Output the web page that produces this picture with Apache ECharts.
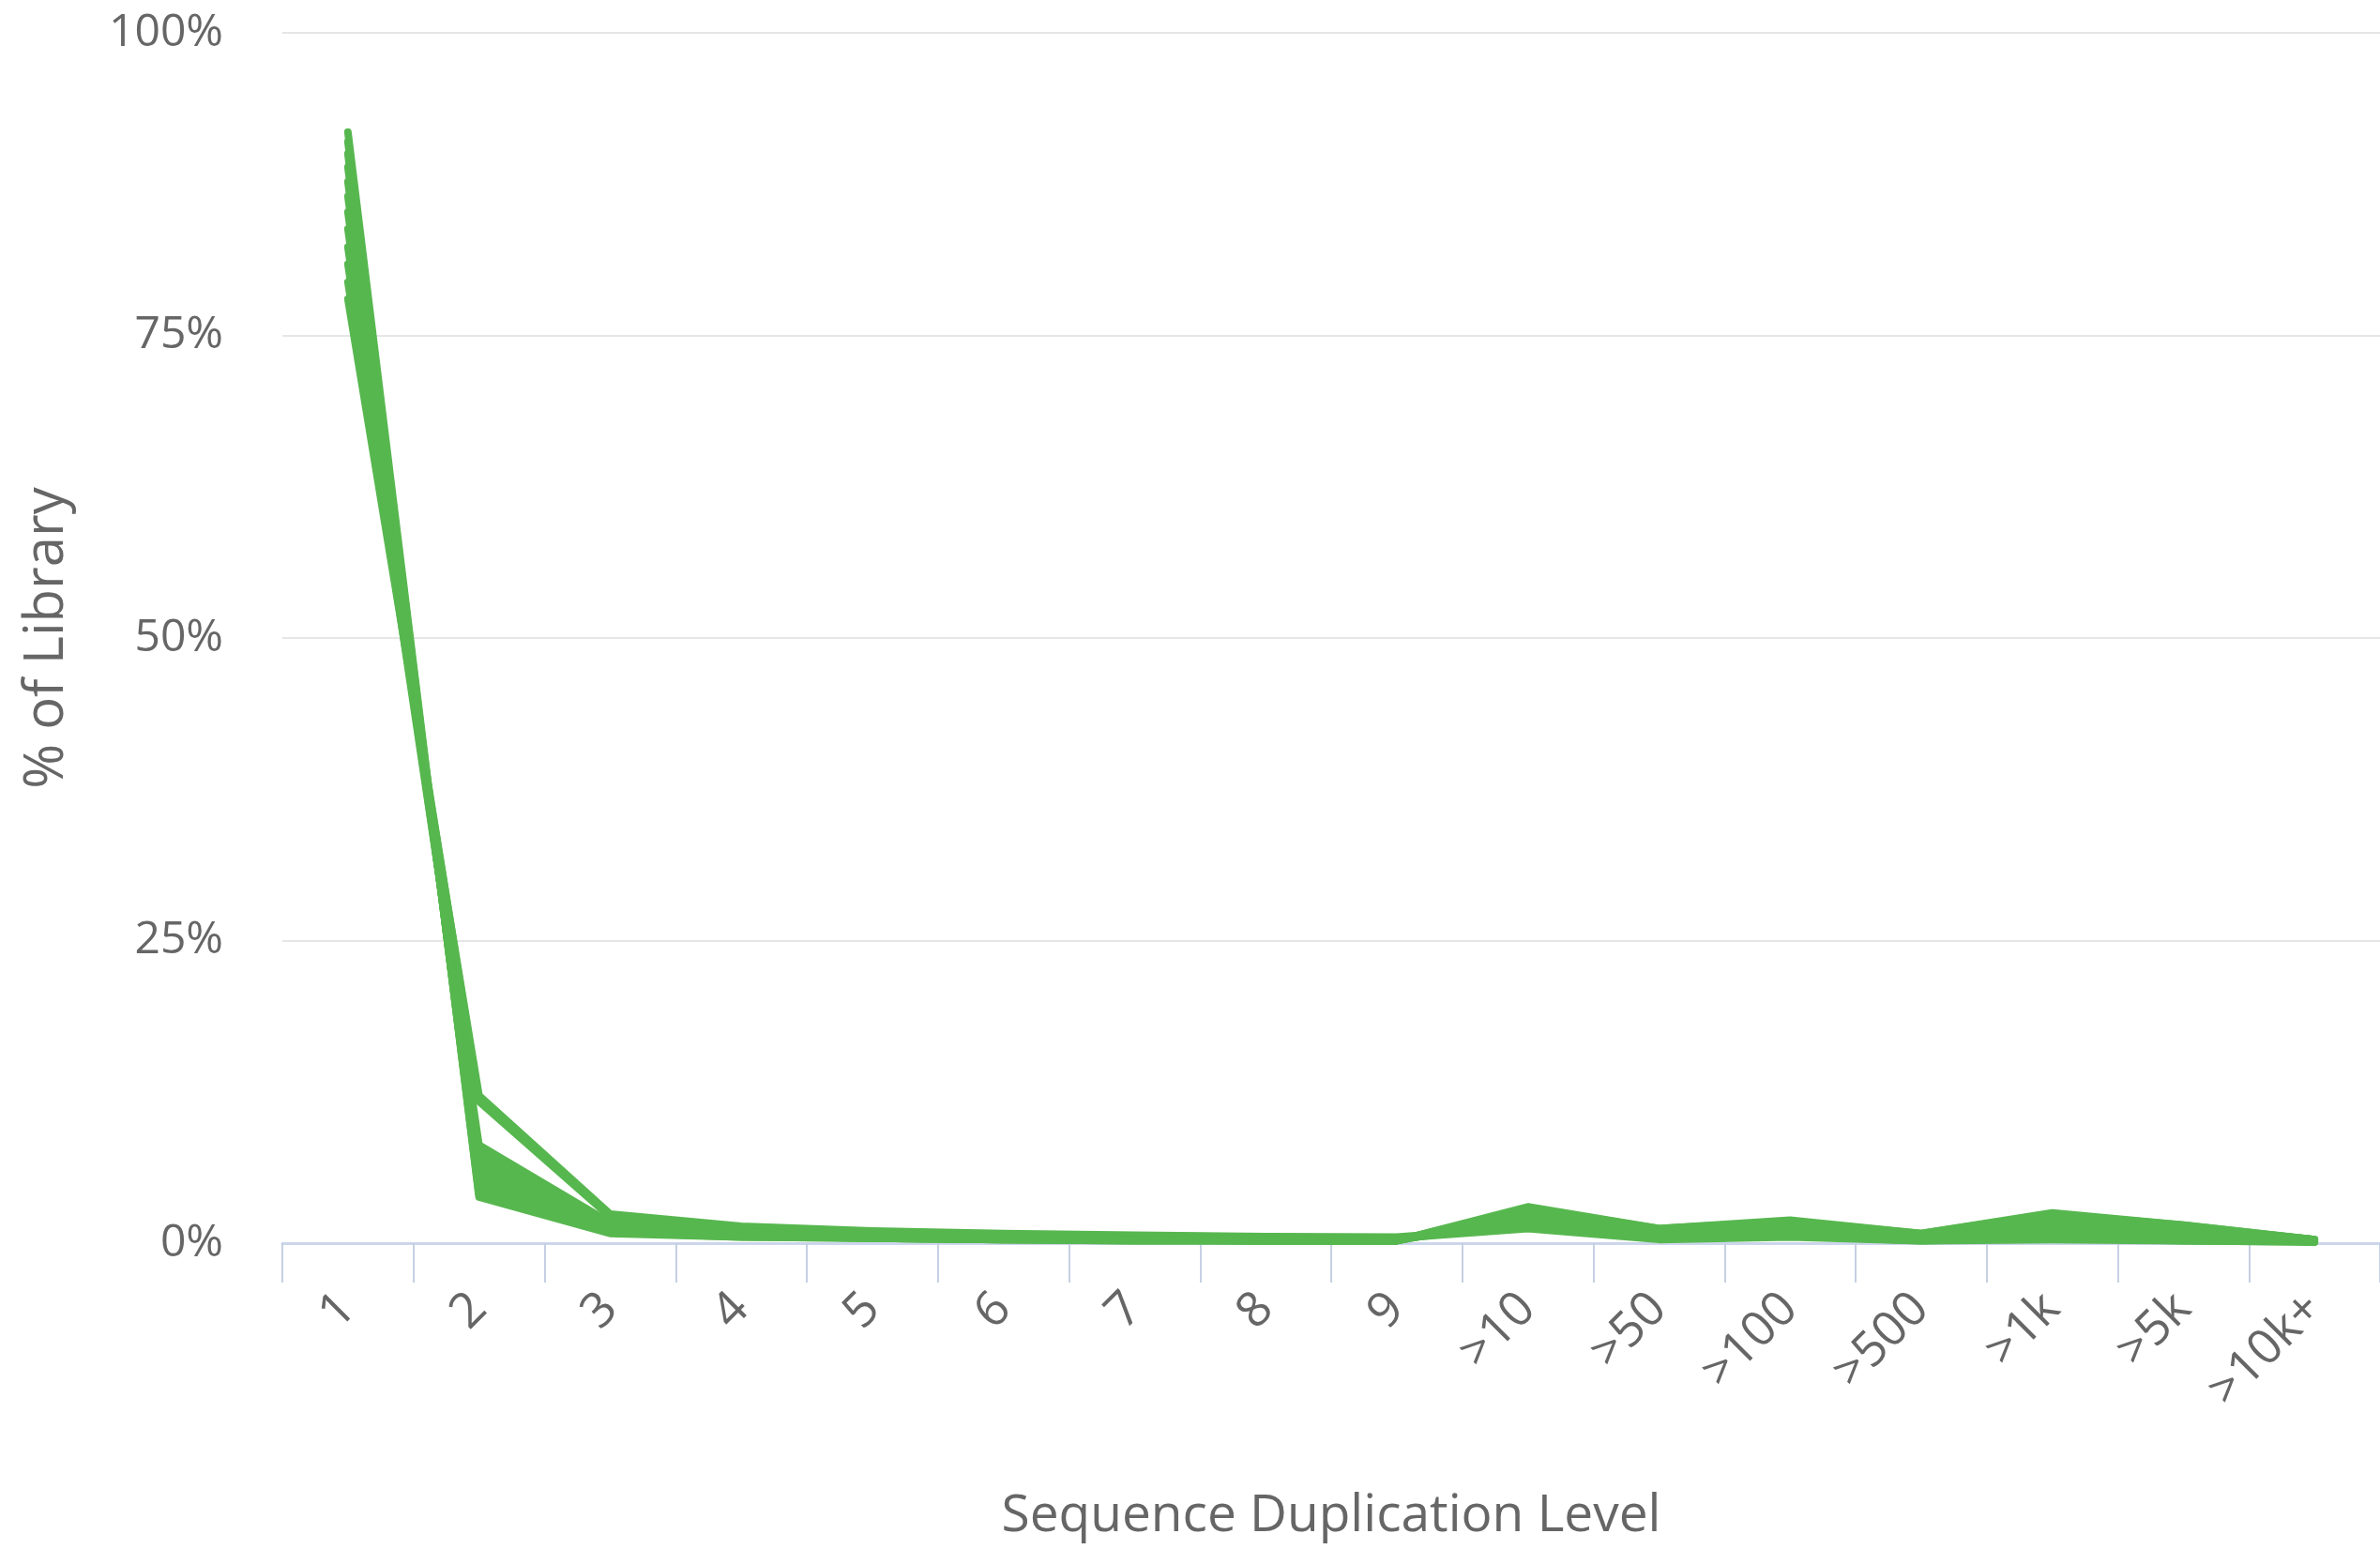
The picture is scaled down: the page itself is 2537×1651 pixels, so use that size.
<!DOCTYPE html>
<html>
<head>
<meta charset="utf-8">
<title>Sequence Duplication Levels</title>
<script src="https://cdn.jsdelivr.net/npm/echarts@6/dist/echarts.min.js"></script>
<style>
  html, body { margin: 0; padding: 0; background: #fff; }
  #chart { width: 2537px; height: 1651px; }
</style>
</head>
<body>
<div id="chart"></div>
<script>
const categories = ['1', '2', '3', '4', '5', '6', '7', '8', '9', '>10', '>50', '>100', '>500', '>1k', '>5k', '>10k+']

// % of library per duplication level, one array per sample
const s01 = [78.0, 12.2, 2.4, 1.4, 1.0, 0.8, 0.65, 0.55, 0.5, 1.3, 0.4, 0.6, 0.2, 0.4, 0.2, 0.1]
const s02 = [79.4, 11.7, 2.2, 1.3, 0.9, 0.7, 0.6, 0.5, 0.4, 1.2, 0.3, 0.5, 0.2, 0.3, 0.2, 0.1]
const s03 = [80.9, 8.1, 1.7, 1.0, 0.7, 0.5, 0.4, 0.3, 0.3, 1.6, 0.6, 0.8, 0.3, 0.7, 0.5, 0.1]
const s04 = [82.3, 7.6, 1.6, 0.9, 0.6, 0.5, 0.4, 0.3, 0.3, 1.8, 0.7, 0.9, 0.4, 0.9, 0.5, 0.2]
const s05 = [83.8, 7.0, 1.5, 0.9, 0.6, 0.4, 0.4, 0.3, 0.3, 1.9, 0.7, 1.0, 0.4, 1.1, 0.6, 0.1]
const s06 = [85.2, 6.4, 1.3, 0.8, 0.5, 0.4, 0.3, 0.3, 0.2, 2.1, 0.8, 1.1, 0.5, 1.4, 0.8, 0.2]
const s07 = [86.5, 5.8, 1.2, 0.7, 0.5, 0.4, 0.3, 0.3, 0.2, 2.3, 0.9, 1.3, 0.5, 1.7, 1.0, 0.2]
const s08 = [87.7, 5.2, 1.1, 0.7, 0.5, 0.4, 0.3, 0.2, 0.2, 2.4, 1.0, 1.4, 0.6, 1.9, 1.1, 0.2]
const s09 = [88.9, 4.7, 1.0, 0.6, 0.4, 0.3, 0.3, 0.2, 0.2, 2.6, 1.0, 1.5, 0.6, 2.1, 1.3, 0.3]
const s10 = [90.0, 4.3, 0.9, 0.6, 0.4, 0.3, 0.3, 0.2, 0.2, 2.8, 1.1, 1.7, 0.7, 2.3, 1.4, 0.3]
const s11 = [91.0, 4.0, 0.9, 0.5, 0.4, 0.3, 0.2, 0.2, 0.2, 2.9, 1.2, 1.8, 0.8, 2.4, 1.5, 0.3]
const s12 = [91.8, 3.8, 0.8, 0.5, 0.4, 0.3, 0.2, 0.2, 0.2, 3.0, 1.2, 1.9, 0.8, 2.5, 1.5, 0.3]

const samples = [s01, s02, s03, s04, s05, s06, s07, s08, s09, s10, s11, s12]

const green = '#57b74f'
const textColor = '#666666'
const font = '"Open Sans", sans-serif'

const chart = echarts.init(document.getElementById('chart'))

chart.setOption({
  animation: false,
  backgroundColor: '#ffffff',
  grid: {
    left: 301,
    top: 35,
    width: 2242,
    height: 1290
  },
  xAxis: {
    type: 'category',
    data: categories,
    boundaryGap: true,
    name: 'Sequence Duplication Level',
    nameLocation: 'middle',
    nameGap: 264,
    nameTextStyle: { fontSize: 55, color: textColor, fontFamily: font },
    axisLine: { show: true, lineStyle: { color: '#ccd6eb', width: 3 } },
    axisTick: { show: true, length: 42, interval: 0, lineStyle: { color: '#c6d0e4', width: 2 } },
    axisLabel: {
      rotate: 45,
      margin: 62,
      fontSize: 52,
      color: textColor,
      fontFamily: font,
      interval: 0
    },
    splitLine: { show: false }
  },
  yAxis: {
    type: 'value',
    min: 0,
    max: 100,
    interval: 25,
    name: '% of Library',
    nameLocation: 'middle',
    nameGap: 222,
    nameTextStyle: { fontSize: 58, color: textColor, fontFamily: font },
    axisLine: { show: false },
    axisTick: { show: false },
    axisLabel: {
      formatter: '{value}%',
      margin: 63,
      fontSize: 48,
      color: textColor,
      fontFamily: font
    },
    splitLine: { lineStyle: { color: '#e6e6e6', width: 2 } }
  },
  series: samples.map((values, i) => ({
    name: 'Sample ' + (i + 1),
    type: 'line',
    data: values,
    symbol: 'none',
    lineStyle: { color: green, width: 8, cap: 'round', join: 'round' }
  }))
})
</script>
</body>
</html>
